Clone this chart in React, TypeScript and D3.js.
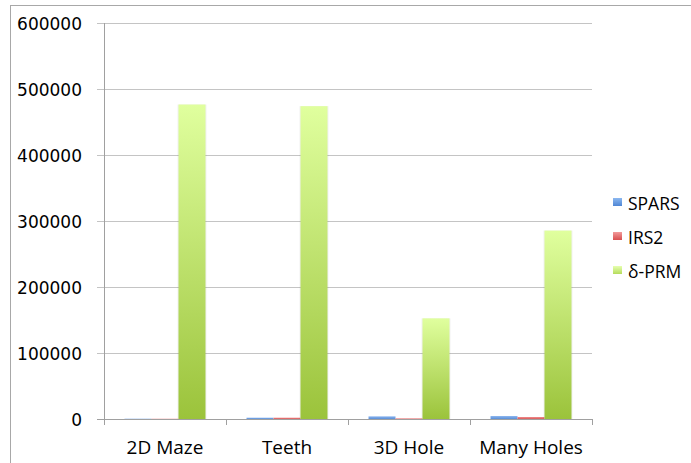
import React from "react";
import * as d3 from "d3";

const categories = ["2D Maze", "Teeth", "3D Hole", "Many Holes"];
const seriesNames = ["SPARS", "IRS2", "δ-PRM"];
const spars = [500, 2000, 4000, 4500];
const irs2 = [400, 2000, 1000, 3000];
const deltaPrm = [476500, 474000, 152500, 285500];
const yTicks = [0, 100000, 200000, 300000, 400000, 500000, 600000];

const W = 691;
const H = 463;

export default function App() {
  const margin = { left: 104, right: 592, top: 23, bottom: 419 };
  const x0 = d3.scaleBand<string>().domain(categories).range([margin.left, margin.right]).paddingInner(0).paddingOuter(0);
  const x1 = d3.scaleBand<string>().domain(seriesNames).range([0, x0.bandwidth()]).paddingOuter(0.76).paddingInner(0);
  const y = d3.scaleLinear().domain([0, 600000]).range([margin.bottom, margin.top]);
  const data = [spars, irs2, deltaPrm];
  const fills = ["url(#gBlue)", "url(#gRed)", "url(#gGreen)"];
  const legendFills = ["url(#lBlue)", "url(#lRed)", "url(#lGreen)"];

  return (
    <svg width={W} height={H} style={{ position: "absolute", left: 0, top: 0, background: "#fff" }}>
      <defs>
        <linearGradient id="gGreen" x1="0" y1="0" x2="0" y2="1">
          <stop offset="0" stopColor="#e0ff9e" />
          <stop offset="1" stopColor="#9bc33b" />
        </linearGradient>
        <linearGradient id="gBlue" x1="0" y1="0" x2="0" y2="1">
          <stop offset="0" stopColor="#8ab4ee" />
          <stop offset="1" stopColor="#5a8fd8" />
        </linearGradient>
        <linearGradient id="gRed" x1="0" y1="0" x2="0" y2="1">
          <stop offset="0" stopColor="#f08a8a" />
          <stop offset="1" stopColor="#d85a5a" />
        </linearGradient>
        <linearGradient id="lGreen" x1="0" y1="0" x2="0" y2="1">
          <stop offset="0" stopColor="#e6ffb0" />
          <stop offset="1" stopColor="#b5dc5c" />
        </linearGradient>
        <linearGradient id="lBlue" x1="0" y1="0" x2="0" y2="1">
          <stop offset="0" stopColor="#8cb8f0" />
          <stop offset="1" stopColor="#4f86d4" />
        </linearGradient>
        <linearGradient id="lRed" x1="0" y1="0" x2="0" y2="1">
          <stop offset="0" stopColor="#f29a9a" />
          <stop offset="1" stopColor="#d84f4f" />
        </linearGradient>
      </defs>
      {/* frame */}
      <rect x={10.5} y={5.5} width={700} height={500} fill="none" stroke="#a8a8a8" strokeWidth={1} />
      {/* gridlines */}
      {yTicks.map((t) => (
        <line key={t} x1={97} x2={margin.right} y1={Math.round(y(t)) + 0.5} y2={Math.round(y(t)) + 0.5} stroke={t === 0 ? "#a0a0a0" : "#c4c4c4"} strokeWidth={1} />
      ))}
      {/* y axis */}
      <line x1={margin.left + 0.5} x2={margin.left + 0.5} y1={margin.top} y2={margin.bottom} stroke="#a0a0a0" />
      {/* x ticks */}
      {categories.map((c) => (
        <line key={c} x1={Math.round(x0(c)!) + 0.5} x2={Math.round(x0(c)!) + 0.5} y1={margin.bottom} y2={margin.bottom + 6} stroke="#a0a0a0" />
      ))}
      <line x1={margin.right + 0.5} x2={margin.right + 0.5} y1={margin.bottom} y2={margin.bottom + 6} stroke="#a0a0a0" />
      {/* y labels */}
      {yTicks.map((t) => (
        <text key={t} x={82} y={y(t) + 6.5} textAnchor="end" fontFamily="DejaVu Sans" fontSize={17} fill="#000">
          {t}
        </text>
      ))}
      {/* bars */}
      {categories.map((c, i) => (
        <g key={c} transform={`translate(${x0(c)},0)`}>
          {data.map((s, j) => {
            const yy = y(s[i]);
            return (
              <g key={j}>
                {j === 2 && (
                  <rect x={x1(seriesNames[j])! - 1} y={yy} width={x1.bandwidth() + 2} height={margin.bottom - yy} fill="#000" opacity={0.06} />
                )}
                <rect x={x1(seriesNames[j])!} y={yy} width={x1.bandwidth()} height={margin.bottom - yy} fill={fills[j]} />
              </g>
            );
          })}
        </g>
      ))}
      {/* x labels */}
      {categories.map((c) => (
        <text key={c} x={x0(c)! + x0.bandwidth() / 2} y={454} textAnchor="middle" fontFamily="Open Sans" fontSize={19} fill="#000">
          {c}
        </text>
      ))}
      {/* legend */}
      {seriesNames.map((s, j) => (
        <g key={s} transform={`translate(613,${198 + j * 34})`}>
          <rect x={0} y={0} width={9} height={8} fill={legendFills[j]} />
          <text x={15} y={12} fontFamily="Open Sans" fontSize={17.5} fill="#000">
            {s}
          </text>
        </g>
      ))}
    </svg>
  );
}
